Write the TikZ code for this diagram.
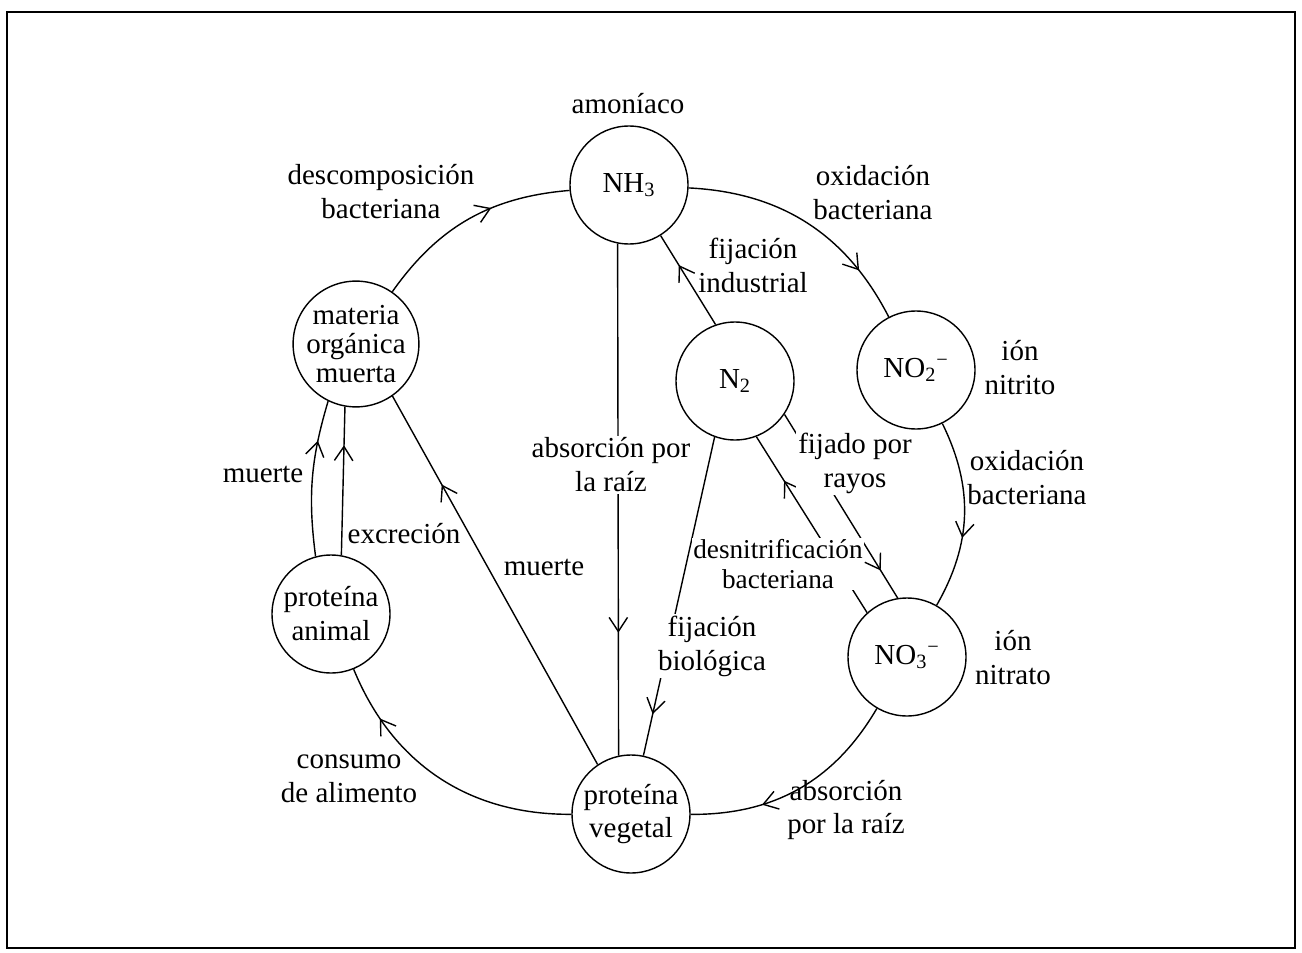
\documentclass[tikz,border=0pt]{standalone}
\usepackage{fontspec}
\setmainfont{Liberation Serif}
\usetikzlibrary{arrows.meta,decorations.markings}

\tikzset{
  ciclo/.style={draw, circle, line width=0.8pt, minimum size=2.36cm, inner sep=0pt, align=center},
  etiq/.style={inner sep=1pt, align=center},
  corte/.style={etiq, fill=white},
  flecha/.style={line width=0.8pt, postaction={decorate},
    decoration={markings, mark=at position #1 with {\arrow{Straight Barb[length=8pt,width=10.5pt,line width=0.8pt]}}}},
}

\begin{document}
\begin{tikzpicture}[x=0.02cm, y=0.02cm, font=\fontsize{16.5}{19.3}\selectfont]
    \useasboundingbox (0,0) rectangle (1302,-953);
    \draw[line width=1.1pt] (7,-12) rectangle (1295,-948);

    % compuestos
    \node[ciclo] (NH3) at (629,-185) {NH\textsubscript{3}};
    \node[ciclo, font=\fontsize{16.5}{16.5}\selectfont] (materia) at (356,-344) {materia\\orgánica\\muerta};
    \node[ciclo] (N2) at (735,-381) {N\textsubscript{2}};
    \node[ciclo] (nitrito) at (916,-370) {NO\textsubscript{2}\textsuperscript{−}};
    \node[ciclo] (nitrato) at (907,-657) {NO\textsubscript{3}\textsuperscript{−}};
    \node[ciclo] (panimal) at (331,-614) {proteína\\animal};
    \node[ciclo] (pveg) at (631,-814) {proteína\\vegetal};

    % ciclo exterior
    \draw[flecha=0.62] (materia) to[bend left=25] (NH3);
    \draw[flecha=0.78] (NH3) to[bend left=30] (nitrito);
    \draw[flecha=0.62] (nitrito) to[bend left=28] (nitrato);
    \draw[flecha=0.68] (nitrato) to[bend left=30] (pveg);
    \draw[flecha=0.8] (pveg) to[bend left=34] (panimal);
    \draw[flecha=0.74] (panimal.105) to[bend left=12] (materia.244);
    \draw[flecha=0.74] (panimal.80) -- (materia.260);

    % interior
    \draw[flecha=0.76] (pveg.124) -- (materia.305);
    \draw[flecha=0.76] (NH3.259) -- (pveg.102);
    \draw[flecha=0.67] (N2.109) -- (NH3.302);
    \draw[flecha=0.87] (N2.250) -- (pveg.78);
    \draw[flecha=0.75] (nitrato.132) -- (N2.291);
    \draw[flecha=0.85] (N2.326) -- (nitrato.99);

    % etiquetas
    \node[etiq] (lamon) at (628,-104) {amoníaco};
    \node[etiq] (ldesc) at (381,-192) {descomposición\\bacteriana};
    \node[etiq] (loxi1) at (873,-193) {oxidación\\bacteriana};
    \node[etiq] (lind) at (753,-265) {fijación\\industrial};
    \node[etiq] (lnitrito) at (1020,-368) {ión\\nitrito};
    \node[etiq] (loxi2) at (1027,-478) {oxidación\\bacteriana};
    \node[corte] (lrayos) at (855,-463) {fijado por\\rayos};
    \node[corte, font=\fontsize{15.5}{17}\selectfont] (ldesn) at (778,-564) {desnitrificación\\bacteriana};
    \node[etiq] (lnitrato) at (1013,-658) {ión\\nitrato};
    \node[etiq] (labs2) at (846,-810) {absorción\\por la raíz};
    \node[corte] (lbio) at (712,-646) {fijación\\biológica};
    \node[corte] (labs1) at (611,-465) {absorción por\\la raíz};
    \node[etiq] (lmuer2) at (544,-567) {muerte};
    \node[etiq] (lexc) at (404,-534) {excreción};
    \node[etiq] (lmuer1) at (263,-474) {muerte};
    \node[etiq] (lcons) at (349,-779) {consumo\\de alimento};
\end{tikzpicture}
\end{document}
